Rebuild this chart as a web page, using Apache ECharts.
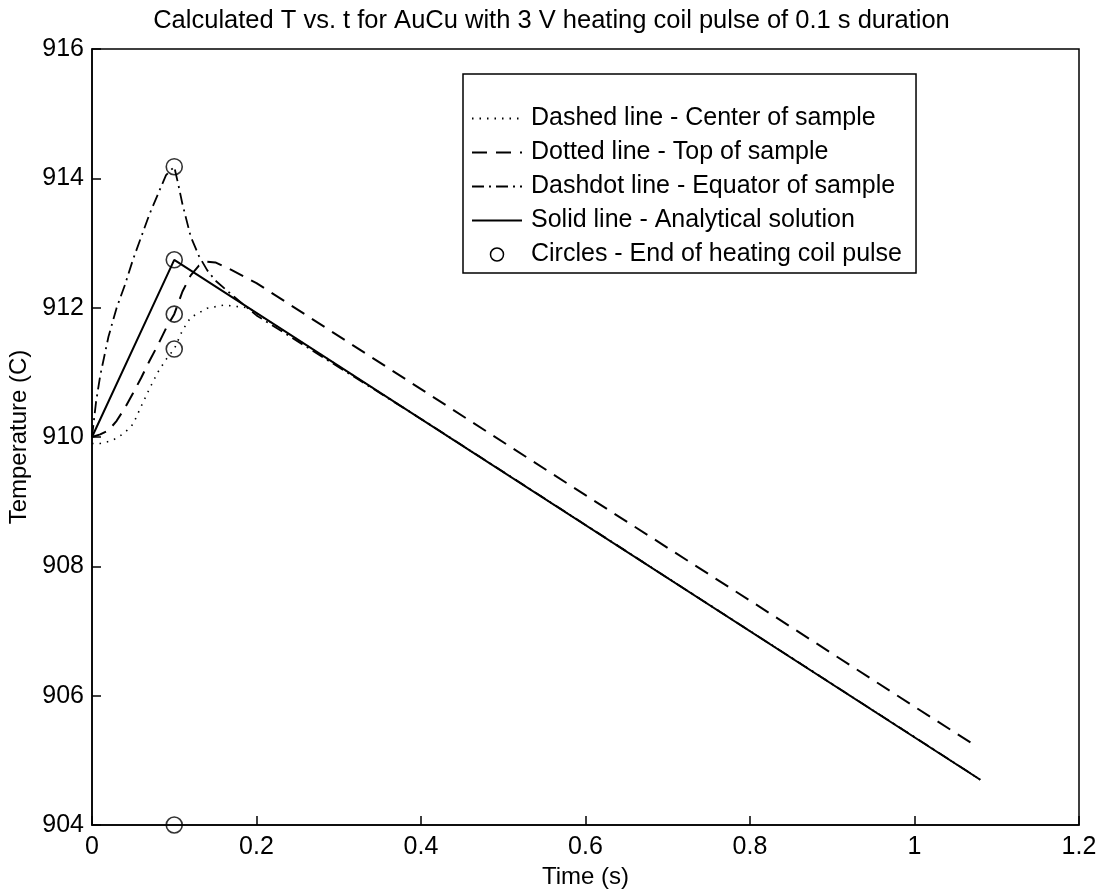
<!DOCTYPE html>
<html>
<head>
<meta charset="utf-8">
<script src="https://cdn.jsdelivr.net/npm/echarts@6/dist/echarts.min.js"></script>
<style>
html,body{margin:0;padding:0;background:#fff;}
#main{width:1103px;height:895px;}
</style>
</head>
<body>
<div id="main"></div>
<script>
// center of sample (dotted)
var tCenter = [0, 0.01, 0.02, 0.03, 0.04, 0.05, 0.06, 0.07, 0.08, 0.09, 0.1, 0.11, 0.12, 0.14, 0.16, 0.19, 0.22, 0.4, 0.6, 0.8, 1.0, 1.08];
var TCenter = [909.9, 909.9, 909.93, 909.98, 910.07, 910.2, 910.48, 910.75, 911.0, 911.2, 911.36, 911.65, 911.85, 911.99, 912.04, 912.0, 911.75, 910.28, 908.64, 907.0, 905.36, 904.7];

// top of sample (dashed)
var tTop = [0, 0.01, 0.02, 0.03, 0.04, 0.05, 0.06, 0.07, 0.08, 0.09, 0.1, 0.11, 0.12, 0.13, 0.14, 0.15, 0.17, 0.2, 0.4, 0.6, 0.8, 1.0, 1.075];
var TTop = [910.0, 910.04, 910.1, 910.25, 910.45, 910.68, 910.92, 911.18, 911.42, 911.68, 911.9, 912.25, 912.5, 912.65, 912.71, 912.7, 912.58, 912.38, 910.74, 909.1, 907.47, 905.83, 905.22];

// equator of sample (dashdot)
var tEq = [0, 0.005, 0.01, 0.02, 0.03, 0.04, 0.05, 0.06, 0.07, 0.08, 0.09, 0.1, 0.105, 0.11, 0.115, 0.12, 0.13, 0.14, 0.15, 0.17, 0.2, 0.4, 0.6, 0.8, 1.0, 1.08];
var TEq = [910.0, 910.55, 910.95, 911.55, 912.0, 912.35, 912.75, 913.1, 913.45, 913.75, 914.05, 914.18, 913.9, 913.6, 913.35, 913.1, 912.8, 912.58, 912.42, 912.2, 911.88, 910.28, 908.64, 907.0, 905.36, 904.7];

// analytical solution (solid)
var tSol = [0, 0.1, 1.08];
var TSol = [910.0, 912.74, 904.7];

// end of heating coil pulse (circles)
var tCirc = [0.1, 0.1, 0.1, 0.1, 0.1];
var TCirc = [914.18, 912.74, 911.9, 911.36, 904.0];

var legendNames = ['Dashed line - Center of sample', 'Dotted line - Top of sample', 'Dashdot line - Equator of sample', 'Solid line - Analytical solution', 'Circles - End of heating coil pulse'];

function pairs(xs, ys) {
  var out = [];
  for (var i = 0; i < xs.length; i++) out.push([xs[i], ys[i]]);
  return out;
}

var font = 'Liberation Sans, Arial, Helvetica, sans-serif';
var myChart = echarts.init(document.getElementById('main'));

// legend entries: hide the symbol on line entries, only the line shows
var legendData = legendNames.map(function (n, i) {
  if (i < 4) return {name: n, itemStyle: {opacity: 0}};
  return {name: n, icon: 'circle', itemStyle: {color: 'rgba(0,0,0,0)', borderColor: '#000', borderWidth: 1.5, opacity: 1}};
});

var option = {
  animation: false,
  backgroundColor: '#fff',
  title: {
    text: 'Calculated T vs. t for AuCu with 3 V heating coil pulse of 0.1 s duration',
    left: 'center',
    top: 3,
    textStyle: {color: '#000', fontSize: 25.5, fontWeight: 'normal', fontFamily: font}
  },
  legend: {
    orient: 'vertical',
    left: 463,
    top: 74,
    padding: [32, 14, 6, 8],
    itemGap: 9,
    itemWidth: 50,
    itemHeight: 13,
    borderColor: '#000',
    borderWidth: 1.5,
    borderRadius: 0,
    backgroundColor: '#fff',
    textStyle: {color: '#000', fontSize: 25, lineHeight: 25, fontFamily: font, padding: [0, 0, 0, 4]},
    data: legendData
  },
  grid: {
    left: 92, right: 24, top: 49, bottom: 70,
    outerBoundsMode: 'none',
    containLabel: false,
    show: true, borderColor: '#000', borderWidth: 1.5, backgroundColor: 'transparent'
  },
  xAxis: {
    type: 'value',
    min: 0, max: 1.2, interval: 0.2,
    name: 'Time (s)',
    nameLocation: 'middle',
    nameGap: 40,
    nameTextStyle: {color: '#000', fontSize: 24, fontFamily: font},
    axisLine: {lineStyle: {color: '#000', width: 1.5}},
    axisTick: {inside: true, length: 9, lineStyle: {color: '#000', width: 1.5}},
    axisLabel: {color: '#000', fontSize: 25, fontFamily: font, margin: 10},
    splitLine: {show: false}
  },
  yAxis: {
    type: 'value',
    min: 904, max: 916, interval: 2,
    name: 'Temperature (C)',
    nameLocation: 'middle',
    nameGap: 60,
    nameTextStyle: {color: '#000', fontSize: 24, fontFamily: font},
    axisLine: {show: true, lineStyle: {color: '#000', width: 1.5}},
    axisTick: {show: true, inside: true, length: 9, lineStyle: {color: '#000', width: 1.5}},
    axisLabel: {color: '#000', fontSize: 25, fontFamily: font, margin: 8},
    splitLine: {show: false}
  },
  series: [{
    name: legendNames[0],
    type: 'line',
    symbol: 'none',
    color: '#000',
    lineStyle: {color: '#000', width: 1.6, type: [1.5, 6]},
    data: pairs(tCenter, TCenter)
  }, {
    name: legendNames[1],
    type: 'line',
    symbol: 'none',
    color: '#000',
    lineStyle: {color: '#000', width: 2, type: [15, 9]},
    data: pairs(tTop, TTop)
  }, {
    name: legendNames[2],
    type: 'line',
    symbol: 'none',
    color: '#000',
    lineStyle: {color: '#000', width: 1.8, type: [12, 5, 2, 5]},
    data: pairs(tEq, TEq)
  }, {
    name: legendNames[3],
    type: 'line',
    symbol: 'none',
    color: '#000',
    lineStyle: {color: '#000', width: 2},
    data: pairs(tSol, TSol)
  }, {
    name: legendNames[4],
    type: 'scatter',
    symbol: 'circle',
    symbolSize: 16,
    color: '#000',
    itemStyle: {color: 'rgba(0,0,0,0)', borderColor: '#000', borderWidth: 1.6},
    data: pairs(tCirc, TCirc),
    z: 5
  }]
};
myChart.setOption(option);
</script>
</body>
</html>
